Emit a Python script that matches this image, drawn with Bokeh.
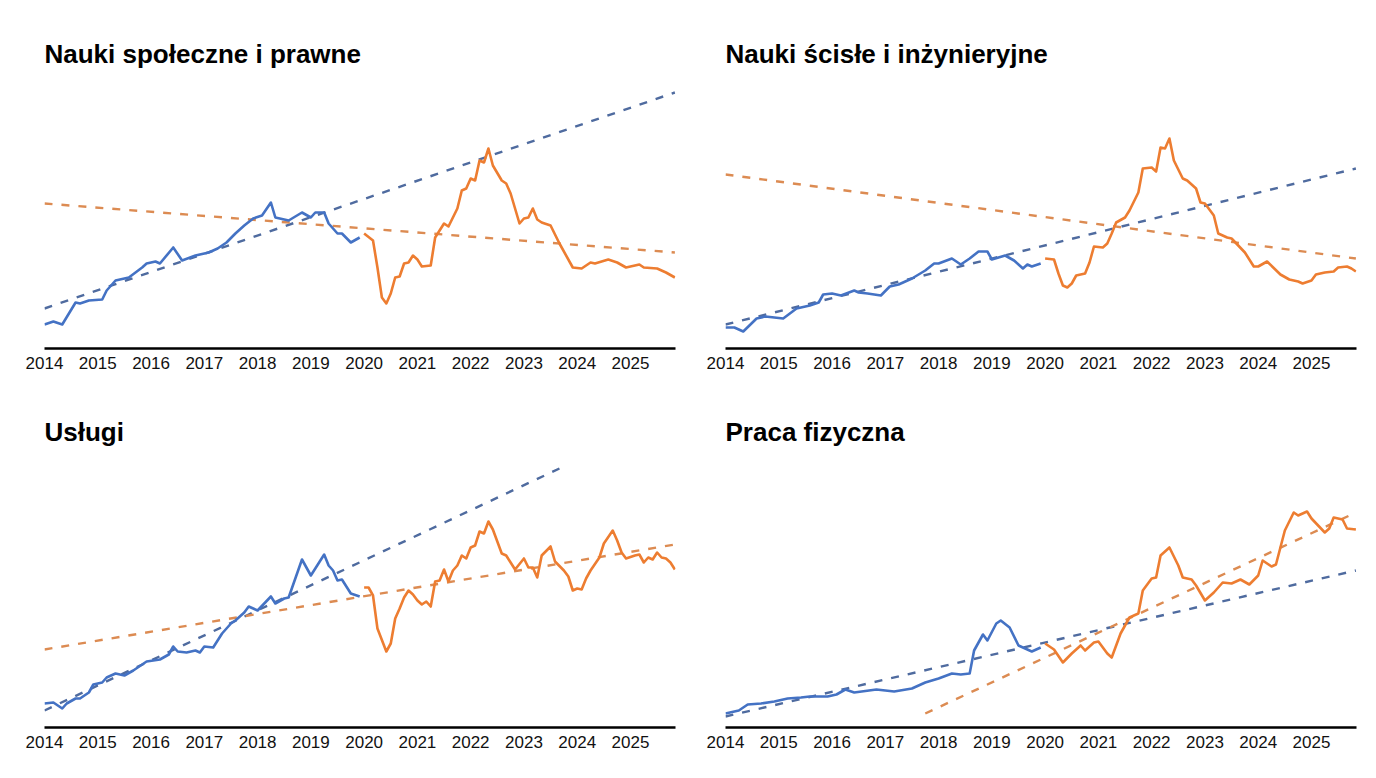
from bokeh.plotting import figure
from bokeh.layouts import column, row
from bokeh.models import Range1d, FixedTicker, Label
from bokeh.embed import file_html
from bokeh.resources import INLINE

# ---------------- data ----------------
YEARS = list(range(2014, 2026))
TICK_LABELS = [str(y) for y in YEARS]
X_START = "2014-01"
X_END_YEAR = 2025.845

# Panel 1: Nauki społeczne i prawne
tl_title = "Nauki społeczne i prawne"
tl_blue_dates = ["2014-01", "2014-03", "2014-05", "2014-08", "2014-09", "2014-11", "2015-02", "2015-03",
                 "2015-05", "2015-08", "2015-11", "2015-12", "2016-02", "2016-03", "2016-06", "2016-08",
                 "2016-11", "2017-02", "2017-04", "2017-06", "2017-08", "2017-10", "2017-12", "2018-02",
                 "2018-04", "2018-05", "2018-08", "2018-11", "2019-01", "2019-02", "2019-04", "2019-05",
                 "2019-07", "2019-08", "2019-10", "2019-12"]
tl_blue_vals = [24, 27, 24, 46, 45, 48, 49, 58, 68, 71, 81, 85, 87, 85, 101, 88, 93, 96, 100, 106, 115,
                123, 130, 133, 146, 131, 128, 136, 131, 136, 136, 125, 115, 115, 106, 111]
tl_orange_dates = ["2020-01", "2020-03", "2020-04", "2020-05", "2020-06", "2020-07", "2020-08", "2020-09",
                   "2020-10", "2020-11", "2020-12", "2021-01", "2021-02", "2021-04", "2021-05", "2021-07",
                   "2021-08", "2021-10", "2021-11", "2021-12", "2022-01", "2022-02", "2022-03", "2022-04",
                   "2022-05", "2022-06", "2022-08", "2022-09", "2022-10", "2022-12", "2023-01", "2023-02",
                   "2023-03", "2023-04", "2023-05", "2023-07", "2023-09", "2023-12", "2024-02", "2024-04",
                   "2024-05", "2024-08", "2024-10", "2024-12", "2025-03", "2025-04", "2025-07", "2025-09",
                   "2025-11"]
tl_orange_vals = [115, 108, 81, 51, 45, 55, 71, 72, 85, 86, 93, 89, 82, 83, 111, 125, 122, 140, 158, 160,
                  170, 168, 188, 186, 200, 183, 168, 165, 155, 125, 130, 131, 140, 129, 126, 123, 105, 81,
                  80, 86, 85, 89, 86, 81, 84, 81, 80, 76, 71]
tl_blue_trend_dates = ["2014-01", "2025-11"]
tl_blue_trend_vals = [40, 256]
tl_orange_trend_dates = ["2014-01", "2025-11"]
tl_orange_trend_vals = [145, 96]

# Panel 2: Nauki ścisłe i inżynieryjne
tr_title = "Nauki ścisłe i inżynieryjne"
tr_blue_dates = ["2014-01", "2014-03", "2014-05", "2014-08", "2014-10", "2015-02", "2015-05", "2015-08",
                 "2015-10", "2015-11", "2016-01", "2016-03", "2016-06", "2016-07", "2016-09", "2016-12",
                 "2017-02", "2017-04", "2017-07", "2017-10", "2017-12", "2018-01", "2018-04", "2018-06",
                 "2018-08", "2018-10", "2018-12", "2019-01", "2019-04", "2019-06", "2019-08", "2019-09",
                 "2019-10", "2019-12"]
tr_blue_vals = [21, 21, 17, 30, 32, 30, 40, 43, 46, 54, 55, 53, 58, 56, 55, 53, 62, 64, 70, 78, 85, 85,
                90, 84, 90, 97, 97, 89, 93, 88, 80, 84, 82, 85]
tr_orange_dates = ["2020-01", "2020-03", "2020-04", "2020-05", "2020-06", "2020-07", "2020-08", "2020-10",
                   "2020-11", "2020-12", "2021-02", "2021-03", "2021-04", "2021-05", "2021-07", "2021-08",
                   "2021-10", "2021-11", "2022-01", "2022-02", "2022-03", "2022-04", "2022-05", "2022-06",
                   "2022-08", "2022-09", "2022-11", "2022-12", "2023-01", "2023-03", "2023-04", "2023-06",
                   "2023-07", "2023-10", "2023-12", "2024-01", "2024-03", "2024-06", "2024-08", "2024-10",
                   "2024-11", "2025-01", "2025-02", "2025-04", "2025-06", "2025-07", "2025-09", "2025-10",
                   "2025-11"]
tr_orange_vals = [90, 89, 75, 63, 61, 65, 73, 75, 86, 102, 101, 105, 115, 126, 131, 138, 156, 180, 181,
                  177, 201, 200, 210, 188, 170, 168, 160, 146, 145, 133, 115, 111, 110, 96, 82, 82, 87,
                  74, 69, 67, 65, 68, 74, 76, 77, 81, 82, 80, 77]
tr_blue_trend_dates = ["2014-01", "2025-11"]
tr_blue_trend_vals = [24, 180]
tr_orange_trend_dates = ["2014-01", "2025-11"]
tr_orange_trend_vals = [174, 90]

# Panel 3: Usługi
bl_title = "Usługi"
bl_blue_dates = ["2014-01", "2014-03", "2014-05", "2014-06", "2014-08", "2014-09", "2014-11", "2014-12",
                 "2015-02", "2015-03", "2015-05", "2015-07", "2015-09", "2015-11", "2015-12", "2016-03",
                 "2016-05", "2016-06", "2016-07", "2016-09", "2016-11", "2016-12", "2017-01", "2017-03",
                 "2017-05", "2017-07", "2017-08", "2017-10", "2017-11", "2018-01", "2018-04", "2018-05",
                 "2018-07", "2018-08", "2018-11", "2019-01", "2019-04", "2019-05", "2019-06", "2019-07",
                 "2019-08", "2019-10", "2019-12"]
bl_blue_vals = [24, 25, 19, 24, 29, 29, 35, 43, 45, 50, 54, 52, 57, 63, 66, 68, 73, 81, 76, 75, 77, 75,
                81, 80, 94, 104, 107, 115, 121, 117, 131, 124, 129, 130, 168, 152, 173, 162, 157, 147, 148,
                134, 131]
bl_orange_dates = ["2020-01", "2020-02", "2020-03", "2020-04", "2020-06", "2020-07", "2020-08", "2020-09",
                   "2020-10", "2020-11", "2020-12", "2021-01", "2021-02", "2021-03", "2021-04", "2021-05",
                   "2021-06", "2021-07", "2021-08", "2021-09", "2021-10", "2021-11", "2021-12", "2022-01",
                   "2022-02", "2022-03", "2022-04", "2022-05", "2022-06", "2022-07", "2022-08", "2022-09",
                   "2022-10", "2022-11", "2023-01", "2023-02", "2023-03", "2023-04", "2023-05", "2023-07",
                   "2023-08", "2023-10", "2023-11", "2023-12", "2024-01", "2024-02", "2024-03", "2024-04",
                   "2024-06", "2024-07", "2024-09", "2024-10", "2024-11", "2024-12", "2025-02", "2025-03",
                   "2025-04", "2025-05", "2025-06", "2025-07", "2025-08", "2025-09", "2025-10", "2025-11"]
bl_orange_vals = [140, 140, 132, 99, 76, 84, 109, 119, 130, 137, 133, 127, 123, 126, 121, 146, 147, 158,
                  146, 157, 162, 172, 169, 180, 182, 196, 194, 206, 198, 186, 174, 172, 165, 158, 169, 160,
                  160, 150, 172, 181, 166, 157, 151, 137, 139, 138, 149, 157, 170, 184, 197, 187, 175, 169,
                  172, 173, 165, 170, 168, 175, 170, 169, 165, 158]
bl_blue_trend_dates = ["2014-01", "2023-09"]
bl_blue_trend_vals = [17, 259]
bl_orange_trend_dates = ["2014-01", "2025-11"]
bl_orange_trend_vals = [78, 183]

# Panel 4: Praca fizyczna
br_title = "Praca fizyczna"
br_blue_dates = ["2014-01", "2014-04", "2014-06", "2014-09", "2014-12", "2015-03", "2015-06", "2015-08",
                 "2015-12", "2016-02", "2016-04", "2016-06", "2016-11", "2017-03", "2017-07", "2017-10",
                 "2018-01", "2018-04", "2018-06", "2018-08", "2018-09", "2018-11", "2018-12", "2019-02",
                 "2019-03", "2019-05", "2019-07", "2019-10", "2019-12"]
br_blue_vals = [14, 17, 23, 24, 26, 29, 30, 31, 31, 33, 38, 35, 38, 36, 39, 45, 49, 54, 53, 54, 77, 93,
                87, 104, 107, 100, 82, 76, 80]
br_orange_dates = ["2020-01", "2020-03", "2020-05", "2020-07", "2020-09", "2020-10", "2020-12", "2021-01",
                   "2021-03", "2021-04", "2021-06", "2021-08", "2021-10", "2021-11", "2022-01", "2022-02",
                   "2022-03", "2022-05", "2022-07", "2022-08", "2022-10", "2022-11", "2023-01", "2023-03",
                   "2023-05", "2023-07", "2023-09", "2023-11", "2024-01", "2024-02", "2024-04", "2024-05",
                   "2024-07", "2024-09", "2024-10", "2024-12", "2025-01", "2025-04", "2025-05", "2025-06",
                   "2025-08", "2025-09", "2025-11"]
br_orange_vals = [84, 78, 65, 74, 82, 77, 85, 86, 74, 70, 94, 110, 114, 137, 149, 150, 172, 180, 162,
                  150, 148, 142, 127, 135, 145, 144, 148, 143, 152, 167, 161, 163, 197, 215, 212, 216,
                  209, 195, 199, 210, 208, 199, 198]
br_blue_trend_dates = ["2014-01", "2025-11"]
br_blue_trend_vals = [11, 157]
br_orange_trend_dates = ["2017-10", "2025-11"]
br_orange_trend_vals = [14, 215]

# ---------------- styling ----------------
BLUE = "#4472C4"
ORANGE = "#ED7D31"
BLUE_TREND = "#4F6B9F"
ORANGE_TREND = "#DC8B52"
FONT = "Liberation Sans"


def to_year(s):
    y, m = s.split("-")
    return int(y) + (int(m) - 1) / 12.0


def panel(title, blue_d, blue_v, orange_d, orange_v, bt_d, bt_v, ot_d, ot_v,
          left, right, top, bottom, ytop, title_y):
    p = figure(width=680, height=380, output_backend="svg", toolbar_location=None,
               x_range=Range1d(to_year(X_START), X_END_YEAR), y_range=Range1d(0, ytop),
               y_axis_location=None, min_border_left=left, min_border_right=right,
               min_border_top=top, min_border_bottom=bottom)
    p.outline_line_color = None
    p.xgrid.visible = False
    p.ygrid.visible = False
    p.background_fill_color = "white"
    p.border_fill_color = "white"

    ax = p.xaxis[0]
    ax.ticker = FixedTicker(ticks=YEARS)
    ax.major_label_overrides = {y: lab for y, lab in zip(YEARS, TICK_LABELS)}
    ax.axis_line_color = "black"
    ax.axis_line_width = 2.5
    ax.major_tick_line_color = None
    ax.minor_tick_line_color = None
    ax.major_tick_out = 0
    ax.major_tick_in = 0
    ax.major_label_standoff = 8
    ax.major_label_text_font = FONT
    ax.major_label_text_font_size = "17px"
    ax.major_label_text_color = "#111111"

    p.line([to_year(d) for d in bt_d], bt_v, line_color=BLUE_TREND, line_width=2.4, line_dash="8 9")
    p.line([to_year(d) for d in ot_d], ot_v, line_color=ORANGE_TREND, line_width=2.4, line_dash="8 9")
    p.line([to_year(d) for d in blue_d], blue_v, line_color=BLUE, line_width=2.6, line_join="round")
    p.line([to_year(d) for d in orange_d], orange_v, line_color=ORANGE, line_width=2.6, line_join="round")

    p.add_layout(Label(x=to_year(X_START), y=title_y, text=title, text_font=FONT,
                       text_font_size="26px", text_font_style="bold", text_color="#000000",
                       text_align="left", text_baseline="alphabetic"))
    return p


p1 = panel(tl_title, tl_blue_dates, tl_blue_vals, tl_orange_dates, tl_orange_vals,
           tl_blue_trend_dates, tl_blue_trend_vals, tl_orange_trend_dates, tl_orange_trend_vals,
           44, 5, 20, 32, 328, 295)
p2 = panel(tr_title, tr_blue_dates, tr_blue_vals, tr_orange_dates, tr_orange_vals,
           tr_blue_trend_dates, tr_blue_trend_vals, tr_orange_trend_dates, tr_orange_trend_vals,
           45, 4, 20, 32, 328, 295)
p3 = panel(bl_title, bl_blue_dates, bl_blue_vals, bl_orange_dates, bl_orange_vals,
           bl_blue_trend_dates, bl_blue_trend_vals, bl_orange_trend_dates, bl_orange_trend_vals,
           44, 5, 20, 33, 327, 296)
p4 = panel(br_title, br_blue_dates, br_blue_vals, br_orange_dates, br_orange_vals,
           br_blue_trend_dates, br_blue_trend_vals, br_orange_trend_dates, br_orange_trend_vals,
           45, 4, 20, 33, 327, 296)

layout = column(row(p1, p2), row(p3, p4))
open("out.html", "w").write(file_html(layout, INLINE, title="Oferty pracy"))
